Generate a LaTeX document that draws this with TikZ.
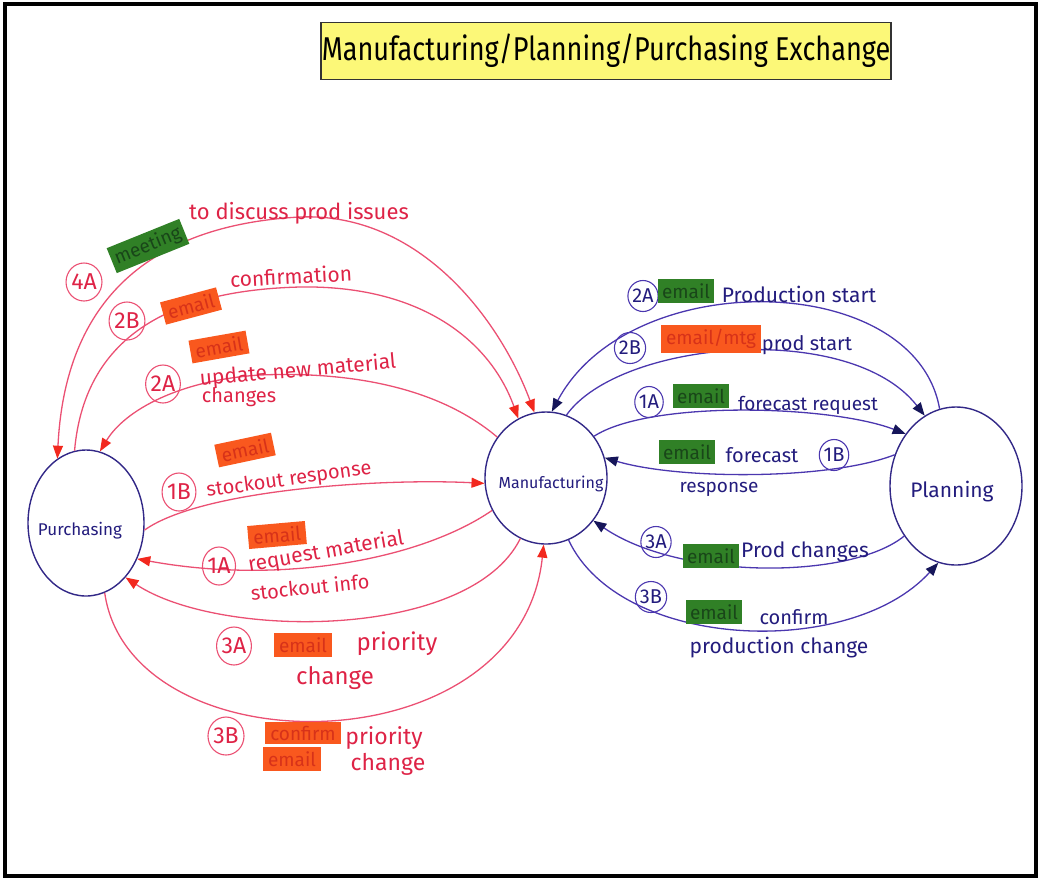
\documentclass[tikz,border=0pt]{standalone}
\usepackage{fontspec}
\setmainfont{Fira Sans}
\usetikzlibrary{arrows.meta,shapes.geometric}

\definecolor{redline}{RGB}{235,80,115}
\definecolor{redtext}{RGB}{222,35,70}
\definecolor{redhead}{RGB}{242,40,30}
\definecolor{blueline}{RGB}{75,55,175}
\definecolor{bluetext}{RGB}{35,28,125}
\definecolor{bluehead}{RGB}{22,22,90}
\definecolor{nodeline}{RGB}{50,40,135}
\definecolor{hlgreen}{RGB}{48,128,38}
\definecolor{hlgreentext}{RGB}{25,70,25}
\definecolor{hlorange}{RGB}{249,88,30}
\definecolor{hlorangetext}{RGB}{215,50,25}
\definecolor{titleyellow}{RGB}{252,248,120}

\newcommand{\fs}[1]{\fontsize{#1}{#1}\selectfont}

\begin{document}
\begin{tikzpicture}[x=1pt,y=-1pt,
  proc/.style={ellipse, draw=nodeline, line width=1.4pt, inner sep=0pt},
  proctext/.style={text=bluetext, font=\fs{17}},
  rline/.style={draw=redline, line width=1.3pt},
  bline/.style={draw=blueline, line width=1.3pt},
  rto/.style={-{Triangle[length=13pt,width=10pt,color=redhead]}},
  rboth/.style={{Triangle[length=13pt,width=10pt,color=redhead]}-{Triangle[length=13pt,width=10pt,color=redhead]}},
  bto/.style={-{Triangle[length=13pt,width=10pt,color=bluehead]}},
  stepr/.style={ellipse, draw=redline, text=redtext, line width=1.1pt, inner sep=0pt,
    minimum width=33pt, minimum height=38pt, font=\fs{23}},
  stepb/.style={ellipse, draw=blueline, text=bluetext, line width=1.1pt, inner sep=0pt,
    minimum width=28pt, minimum height=31pt, font=\fs{20}},
  rtxt/.style={text=redtext, inner sep=1pt, font=\fs{20}},
  btxt/.style={text=bluetext, inner sep=1pt, font=\fs{19}},
  hlg/.style={fill=hlgreen, text=hlgreentext, inner xsep=4pt, inner ysep=4pt,
    font=\fs{19}},
  hlo/.style={fill=hlorange, text=hlorangetext, inner xsep=5pt, inner ysep=4pt,
    font=\fs{19}},
]
\useasboundingbox (0,0) rectangle (1040,879);

% frame
\draw[line width=4pt] (5,4) rectangle (1036,876);

% title
\node[draw=black!80, line width=1.2pt, fill=titleyellow, minimum width=570pt,
  minimum height=57pt, inner sep=0pt] (title) at (606,51)
  {\fs{33}\scalebox{0.82}[1]{Manufacturing/Planning/Purchasing Exchange}};

% actors
\node[proc, minimum width=116pt, minimum height=146pt] (purch) at (86,523) {};
\node[proc, minimum width=122pt, minimum height=132pt] (manu) at (546,478) {};
\node[proc, minimum width=132pt, minimum height=158pt] (plan) at (956,486) {};
\node[proctext] (purchT) at (80,531) {Purchasing};
\node[proctext, font=\fs{16}] (manuT) at (551,484) {Manufacturing};
\node[proctext, font=\fs{21}] (planT) at (952,492) {Planning};

% purchasing <-> manufacturing
\draw[rline, rboth] (manu.100) .. controls (500,320) and (420,212) .. (300,217)
  .. controls (150,225) and (65,300) .. (purch.114);
\draw[rline, rto] (purch.99) .. controls (85,330) and (180,290) .. (300,287)
  .. controls (420,285) and (490,340) .. (manu.115);
\draw[rline, rto] (manu.140) .. controls (430,380) and (330,372) .. (260,375)
  .. controls (180,380) and (125,410) .. (purch.79);
\draw[rline, rto] (purch.353) .. controls (200,490) and (380,478) .. (manu.185);
\draw[rline, rto] (manu.211) .. controls (420,560) and (280,585) .. (purch.325);
\draw[rline, rto] (manu.247) .. controls (470,640) and (220,640) .. (purch.306);
\draw[rline, rto] (purch.285) .. controls (130,770) and (520,770) .. (manu.268);

% manufacturing <-> planning
\draw[bline, bto] (plan.102) .. controls (915,270) and (630,265) .. (manu.85);
\draw[bline, bto] (manu.72) .. controls (620,340) and (850,320) .. (plan.114);
\draw[bline, bto] (manu.41) .. controls (650,400) and (830,405) .. (plan.134);
\draw[bline, bto] (plan.153) .. controls (830,480) and (680,480) .. (manu.19);
\draw[bline, bto] (plan.224) .. controls (850,580) and (680,580) .. (manu.318);
\draw[bline, bto] (manu.290) .. controls (620,650) and (850,660) .. (plan.257);

% labels, purchasing side
\node[stepr] (s4a) at (84,282) {4A};
\node[hlg, rotate=22] (m4a) at (148,246) {meeting};
\node[rtxt, font=\fs{22}] (t4a) at (299,213) {to discuss prod issues};

\node[stepr] (s2b) at (127,321) {2B};
\node[hlo, rotate=15] (m2b) at (191,306) {email};
\node[rtxt, font=\fs{21}, rotate=3] (t2b) at (291,276) {confirmation};

\node[stepr] (s2a) at (163,384) {2A};
\node[hlo, rotate=10] (m2a) at (219,347) {email};
\node[rtxt, font=\fs{21}, rotate=5] (t2a) at (298,371) {update new material};
\node[rtxt] (u2a) at (239,397) {changes};

\node[stepr] (s1b) at (179,492) {1B};
\node[hlo, rotate=12] (m1b) at (245,450) {email};
\node[rtxt, rotate=8] (t1b) at (289,480) {stockout response};

\node[stepr] (s1a) at (219,566) {1A};
\node[hlo, rotate=5] (m1a) at (277,535) {email};
\node[rtxt, font=\fs{21}, rotate=10] (t1a) at (326,552) {request material};
\node[rtxt, rotate=6] (u1a) at (310,587) {stockout info};

\node[stepr] (s3a) at (234,646) {3A};
\node[hlo] (m3a) at (303,645) {email};
\node[rtxt, font=\fs{24}] (t3a) at (397,644) {priority};
\node[rtxt, font=\fs{24}] (u3a) at (335,678) {change};

\node[stepr] (s3b) at (226,736) {3B};
\node[hlo] (m3b) at (303,733) {confirm};
\node[hlo] (n3b) at (292,759) {email};
\node[rtxt, font=\fs{23}] (t3b) at (384,738) {priority};
\node[rtxt, font=\fs{23}] (u3b) at (388,764) {change};

% labels, planning side
\node[stepb] (b2a) at (643,296) {2A};
\node[hlg] (bm2a) at (686,291) {email};
\node[btxt, font=\fs{21}] (bt2a) at (799,294) {Production start};

\node[stepb] (b2b) at (630,348) {2B};
\node[hlo] (bm2b) at (711,339) {email/mtg};
\node[btxt, font=\fs{20}] (bt2b) at (807,345) {prod start};

\node[stepb] (b1a) at (649,402) {1A};
\node[hlg] (bm1a) at (701,396) {email};
\node[btxt] (bt1a) at (808,405) {forecast request};

\node[hlg] (bm1b) at (687,452) {email};
\node[btxt, font=\fs{20}] (bt1b) at (762,455) {forecast};
\node[stepb] (b1b) at (834,455) {1B};
\node[btxt] (bu1b) at (719,489) {response};

\node[stepb] (b3a) at (656,542) {3A};
\node[hlg] (bm3a) at (711,556) {email};
\node[btxt, font=\fs{21}] (bt3a) at (805,552) {Prod changes};

\node[stepb] (b3b) at (651,597) {3B};
\node[hlg] (bm3b) at (714,612) {email};
\node[btxt, font=\fs{20}] (bt3b) at (794,617) {confirm};
\node[btxt, font=\fs{21}] (bu3b) at (779,648) {production change};
\end{tikzpicture}
\end{document}
